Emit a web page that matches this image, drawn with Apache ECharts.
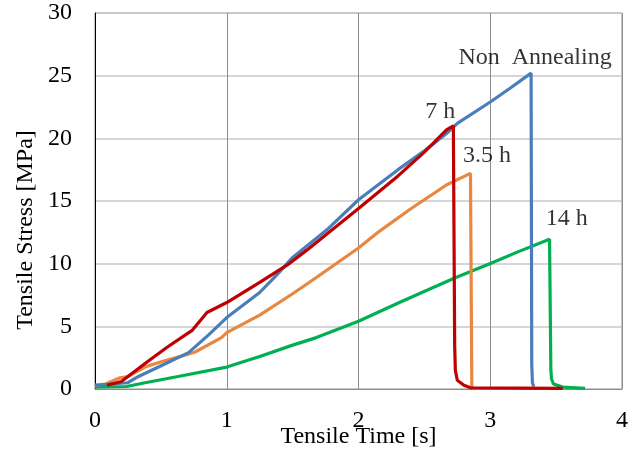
<!DOCTYPE html>
<html>
<head>
<meta charset="utf-8">
<script src="https://cdn.jsdelivr.net/npm/echarts@6/dist/echarts.min.js"></script>
<style>html,body{margin:0;padding:0;background:#fff}#c{width:641px;height:455px}</style>
</head>
<body>
<div id="c"></div>
<script>
// Non Annealing (blue)
var timeNon = [0, 0.25, 0.33, 0.51, 0.71, 0.86, 1.0, 1.25, 1.38, 1.5, 1.76, 2.0, 2.3, 2.5, 2.67, 2.75, 3.0, 3.15, 3.31, 3.315, 3.32, 3.33];
var stressNon = [0.3, 0.5, 1.0, 1.9, 2.9, 4.3, 5.7, 7.7, 9.1, 10.5, 12.7, 15.1, 17.5, 19.0, 20.4, 21.2, 22.9, 24.0, 25.2, 2.0, 0.5, 0.2];
// 3.5 h (orange)
var time35 = [0, 0.08, 0.19, 0.25, 0.39, 0.51, 0.65, 0.76, 0.96, 1.0, 1.25, 1.5, 1.68, 2.0, 2.16, 2.4, 2.67, 2.85, 2.86, 2.865];
var stress35 = [0.3, 0.4, 0.9, 1.0, 1.8, 2.2, 2.6, 2.95, 4.1, 4.5, 5.9, 7.6, 8.9, 11.25, 12.6, 14.4, 16.3, 17.2, 0.3, 0.1];
// 7 h (red)
var time7 = [0.09, 0.2, 0.4, 0.55, 0.74, 0.85, 1.0, 1.25, 1.46, 1.61, 2.0, 2.3, 2.5, 2.67, 2.72, 2.73, 2.735, 2.75, 2.8, 2.85, 3.55];
var stress7 = [0.3, 0.6, 2.2, 3.35, 4.7, 6.1, 6.9, 8.5, 9.9, 11.1, 14.4, 17.0, 18.9, 20.7, 21.0, 3.5, 1.5, 0.7, 0.3, 0.1, 0.05];
// 14 h (green)
var time14 = [0, 0.24, 0.38, 0.63, 1.0, 1.25, 1.5, 1.68, 2.0, 2.31, 2.73, 3.01, 3.2, 3.45, 3.46, 3.465, 3.48, 3.55, 3.72];
var stress14 = [0.15, 0.2, 0.5, 1.0, 1.75, 2.6, 3.5, 4.1, 5.4, 6.9, 8.85, 10.05, 10.9, 11.95, 1.5, 0.8, 0.4, 0.15, 0.05];

var labelTexts = ['Non  Annealing', '7 h', '3.5 h', '14 h'];
var labelX = [3.34, 2.62, 2.975, 3.58];
var labelY = [26.4, 22.1, 18.6, 13.6];

var xTicks = [0, 1, 2, 3, 4];
var yTicks = [0, 5, 10, 15, 20, 25, 30];

function pairs(xs, ys) { return xs.map(function (x, i) { return [x, ys[i]]; }); }

var FONT = 'Liberation Serif, Times New Roman, serif';
var chart = echarts.init(document.getElementById('c'), null, {renderer: 'canvas'});

function lineSeries(name, xs, ys, color, z) {
  return {
    name: name, type: 'line', data: pairs(xs, ys), showSymbol: false, symbol: 'none',
    lineStyle: {color: color, width: 3.2}, z: z, animation: false
  };
}

chart.setOption({
  animation: false,
  backgroundColor: '#ffffff',
  grid: {left: 95, right: 19, top: 13, bottom: 66, containLabel: false, outerBoundsMode: 'none',
         show: true, borderColor: '#8c8c8c', borderWidth: 1},
  xAxis: {
    type: 'value', min: xTicks[0], max: xTicks[xTicks.length - 1], interval: 1,
    name: 'Tensile Time [s]', nameLocation: 'middle', nameGap: 36, nameMoveOverlap: false,
    nameTextStyle: {fontFamily: FONT, fontSize: 24, color: '#000'},
    axisLine: {show: true, lineStyle: {color: '#8c8c8c', width: 1}},
    axisTick: {show: false},
    axisLabel: {fontFamily: FONT, fontSize: 24, color: '#000', margin: 20},
    splitLine: {show: true, lineStyle: {color: '#8c8c8c', width: 1}}
  },
  yAxis: {
    type: 'value', min: yTicks[0], max: yTicks[yTicks.length - 1], interval: 5,
    name: 'Tensile Stress [MPa]', nameLocation: 'middle', nameGap: 57, nameRotate: 90, nameMoveOverlap: false,
    nameTextStyle: {fontFamily: FONT, fontSize: 24, color: '#000', padding: [0, 58, 0, 0]},
    axisLine: {show: true, lineStyle: {color: '#000', width: 1}},
    axisTick: {show: false},
    axisLabel: {fontFamily: FONT, fontSize: 24, color: '#000', margin: 23},
    splitLine: {show: true, lineStyle: {color: '#c8c8c8', width: 1.5}}
  },
  series: [
    lineSeries('Non Annealing', timeNon, stressNon, '#4a7ebb', 3),
    lineSeries('3.5 h', time35, stress35, '#e8873f', 2),
    lineSeries('14 h', time14, stress14, '#00b050', 1),
    lineSeries('7 h', time7, stress7, '#c00000', 4),
    {
      type: 'scatter', symbolSize: 0, z: 10, silent: true,
      data: labelTexts.map(function (t, i) { return {value: [labelX[i], labelY[i]], name: t}; }),
      label: {show: true, position: 'inside', formatter: function (p) { return p.name; },
              fontFamily: FONT, fontSize: 24, color: '#000'}
    }
  ]
});
</script>
</body>
</html>
